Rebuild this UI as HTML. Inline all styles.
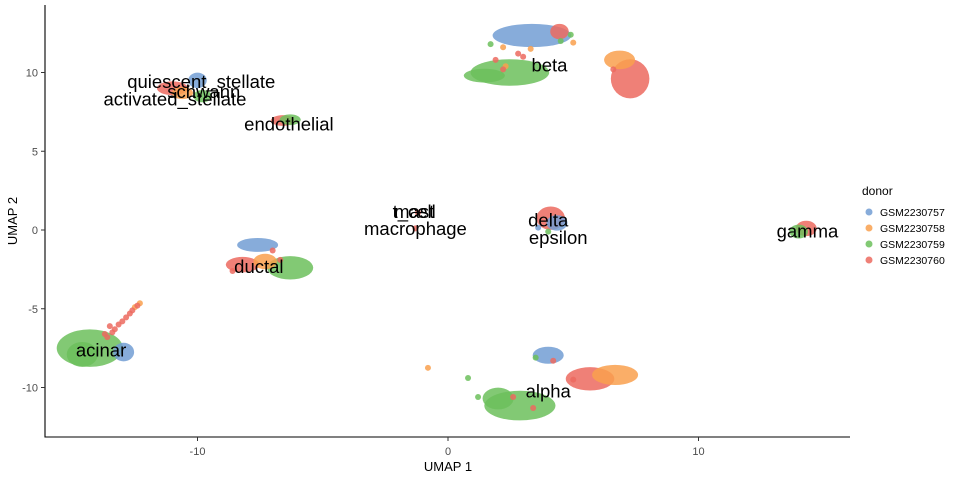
<!DOCTYPE html>
<html><head><meta charset="utf-8"><style>
body{margin:0;background:#fff;}
svg text{font-family:"Liberation Sans",sans-serif;}
</style></head><body>
<svg id="chart" width="960" height="480" xmlns="http://www.w3.org/2000/svg">
<g id="marks"></g>
<g id="labels"></g>
<g id="axes"></g>
<g id="legend"></g>
</svg>
<script>
const donors = ["GSM2230757","GSM2230758","GSM2230759","GSM2230760"];
const donorColors = ["#729ed4","#f9a04e","#6cc05c","#ec6a5f"];
const blobX = [3.35,4.45,2.47,1.45,7.27,6.85,4.0,5.67,6.67,2.87,2.0,4.1,4.35,14.3,14.0,-7.6,-6.3,-8.2,-7.3,-14.3,-14.6,-12.95,-11.0,-10.0,-9.8,-10.6,-6.6,-6.3];
const blobY = [12.35,12.6,10.0,9.8,9.6,10.8,-7.95,-9.45,-9.2,-11.15,-10.7,0.75,0.45,0.1,-0.1,-0.95,-2.4,-2.2,-2.0,-7.5,-7.9,-7.75,9.0,9.5,8.5,8.7,6.95,7.0];
const blobRx = [1.45,0.25,1.45,0.7,0.65,0.5,0.5,0.85,0.8,1.3,0.5,0.45,0.3,0.3,0.25,0.7,0.8,0.55,0.35,1.2,0.5,0.3,0.5,0.25,0.25,0.3,0.35,0.3];
const blobRy = [0.55,0.3,0.65,0.25,1.05,0.4,0.35,0.55,0.45,0.75,0.5,0.55,0.3,0.3,0.25,0.25,0.55,0.3,0.3,1.0,0.6,0.4,0.25,0.3,0.2,0.2,0.15,0.15];
const blobDonor = [0,3,2,2,3,1,0,3,1,2,2,3,0,3,2,0,2,3,1,2,2,0,3,0,2,1,3,2];
const ptX = [2.2,2.8,3.3,4.5,5.0,1.9,2.3,3.0,1.7,6.6,-0.8,0.8,-13.3,-13.0,-12.7,-12.5,-12.3,-13.7,-1.2,-1.3,3.6,4.0,3.5,4.2,5.0,2.6,3.4,-7.0,-6.7,-8.6,4.9,1.2,2.2,-13.5,-13.4,-13.15,-12.85,-12.6,-12.4,-13.6];
const ptY = [11.6,11.2,11.5,12.0,11.9,10.8,10.4,11.0,11.8,10.2,-8.75,-9.4,-6.3,-5.8,-5.3,-4.9,-4.65,-6.6,1.1,0.1,0.15,-0.1,-8.1,-8.3,-9.5,-10.6,-11.3,-1.3,-1.9,-2.6,12.4,-10.6,10.2,-6.1,-6.5,-6.0,-5.55,-5.1,-4.8,-6.8];
const ptDonor = [1,3,1,2,1,3,1,3,2,3,1,2,3,3,3,1,1,3,3,3,0,2,2,3,3,3,3,3,3,3,2,2,3,3,3,3,3,3,3,3];
const labelText = ["beta","quiescent_stellate","schwann","activated_stellate","endothelial","t_cell","mast","macrophage","delta","epsilon","gamma","ductal","acinar","alpha"];
const labelX = [4.05,-9.85,-9.75,-10.9,-6.35,-1.35,-1.35,-1.3,4.0,4.4,14.35,-7.55,-13.85,4.0];
const labelY = [10.45,9.4,8.75,8.3,6.7,1.15,1.15,0.05,0.6,-0.5,-0.1,-2.35,-7.65,-10.25];
const xTicks = [-10,0,10];
const yTicks = [-10,-5,0,5,10];

const X = v => 448 + 25.05*v;
const Y = v => 230 - 15.75*v;
const NS="http://www.w3.org/2000/svg";
function mk(tag, attrs, parent){const e=document.createElementNS(NS,tag);for(const k in attrs)e.setAttribute(k,attrs[k]);parent.appendChild(e);return e;}
const marks=document.getElementById('marks');
for(let i=0;i<blobX.length;i++){
  const e=mk('ellipse',{cx:X(blobX[i]),cy:Y(blobY[i]),rx:blobRx[i]*25.05+3,ry:blobRy[i]*15.75+3,fill:donorColors[blobDonor[i]],'fill-opacity':0.85},marks);
  
  
}
for(let i=0;i<ptX.length;i++){
  const c=mk('circle',{cx:X(ptX[i]),cy:Y(ptY[i]),r:3,fill:donorColors[ptDonor[i]],'fill-opacity':0.85},marks);
  
  
}
const labels=document.getElementById('labels');
for(let i=0;i<labelText.length;i++){
  const t=mk('text',{x:X(labelX[i]),y:Y(labelY[i])+6,'text-anchor':'middle','font-size':18.5,fill:'#000'},labels);
  t.textContent=labelText[i];
  
  
}
const axes=document.getElementById('axes');
mk('line',{x1:45,y1:5,x2:45,y2:437.5,stroke:'#000','stroke-width':1.1},axes);
mk('line',{x1:44.5,y1:437,x2:850,y2:437,stroke:'#000','stroke-width':1.1},axes);
xTicks.forEach(v=>{
  mk('line',{x1:X(v),y1:437,x2:X(v),y2:441,stroke:'#333'},axes);
  const t=mk('text',{x:X(v),y:455,'text-anchor':'middle','font-size':11,fill:'#4d4d4d'},axes);
  t.textContent=v;
  
  
});
yTicks.forEach(v=>{
  mk('line',{x1:41,y1:Y(v),x2:45,y2:Y(v),stroke:'#333'},axes);
  const t=mk('text',{x:38,y:Y(v)+4,'text-anchor':'end','font-size':11,fill:'#4d4d4d'},axes);
  t.textContent=v;
  
  
});
const xt=mk('text',{x:448,y:471,'text-anchor':'middle','font-size':13},axes);xt.textContent='UMAP 1';


const yt=mk('text',{x:17,y:221,'text-anchor':'middle','font-size':13,transform:'rotate(-90 17 221)'},axes);yt.textContent='UMAP 2';


const lg=document.getElementById('legend');
const lt=mk('text',{x:862,y:195,'font-size':12},lg);lt.textContent='donor';


donors.forEach((d,i)=>{
  const g=mk('g',{},lg);
  
  
  mk('circle',{cx:869,cy:212+i*16,r:3.5,fill:donorColors[i],'fill-opacity':0.85},g);
  const t=mk('text',{x:880,y:216+i*16,'font-size':10.5,fill:'#000'},g);t.textContent=d;
});
</script>
</body></html>
